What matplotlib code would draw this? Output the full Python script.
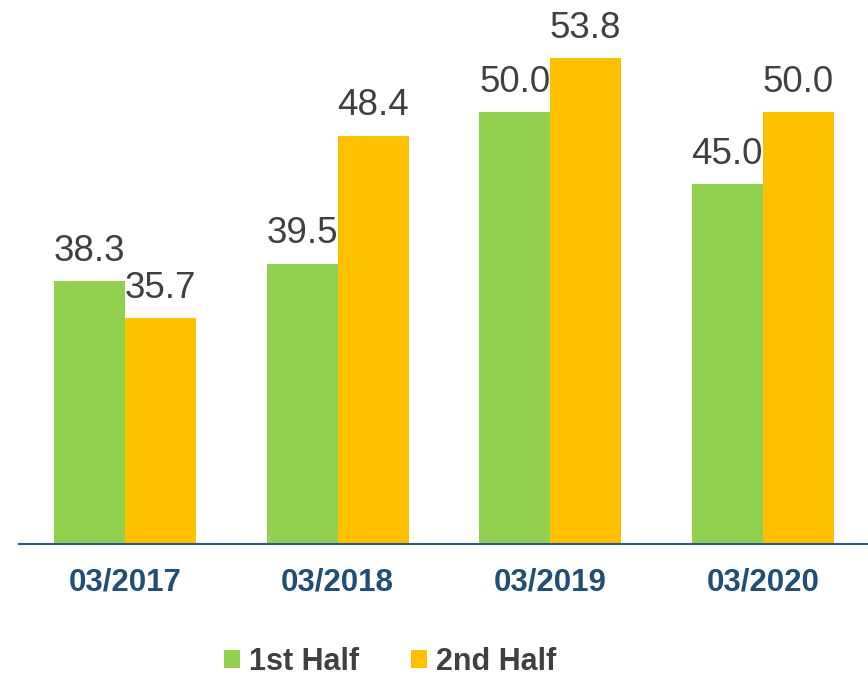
import numpy as np
import matplotlib.pyplot as plt

plt.rcParams['font.family'] = ['Liberation Sans', 'DejaVu Sans']

# data
periods = ['03/2017', '03/2018', '03/2019', '03/2020']
first_half = [38.3, 39.5, 50.0, 45.0]
second_half = [35.7, 48.4, 53.8, 50.0]

green = '#92D050'
yellow = '#FFC000'
label_grey = '#404040'
tick_blue = '#1F4E79'

fig = plt.figure(figsize=(8.68, 6.78), dpi=100)
ax = fig.add_axes([19 / 868, 0.1976, 850 / 868, 0.785])

x = np.arange(len(periods))
w = 0.334

b1 = ax.bar(x - w / 2, first_half, w, color=green, label='1st Half')
b2 = ax.bar(x + w / 2, second_half, w, color=yellow, label='2nd Half')

# value labels above bars
for bars, vals in [(b1, first_half), (b2, second_half)]:
    for rect, v in zip(bars, vals):
        ax.annotate('%.1f' % v,
                    xy=(rect.get_x() + rect.get_width() / 2, rect.get_height()),
                    xytext=(0, 14.5), textcoords='offset points',
                    ha='center', va='baseline',
                    fontsize=26.5, color=label_grey)

ax.set_xlim(-0.5, 3.5)
ax.set_ylim(20, 57)

for side in ['top', 'right', 'left']:
    ax.spines[side].set_visible(False)
ax.spines['bottom'].set_color('#2F5597')
ax.spines['bottom'].set_linewidth(1.5)

ax.set_yticks([])
ax.set_xticks(x)
ax.set_xticklabels(periods, fontsize=22.5, fontweight='bold', color=tick_blue)
ax.tick_params(axis='x', length=0, pad=17)

fig.legend(handles=[b1, b2], loc='center',
           bbox_to_anchor=(390 / 868, 1 - 662 / 678),
           ncol=2, frameon=False,
           prop={'size': 22, 'weight': 'bold'},
           labelcolor=label_grey,
           handlelength=0.52, handleheight=0.52,
           handletextpad=0.3, columnspacing=1.7,
           borderpad=0, borderaxespad=0)

fig.savefig('out.png', dpi=100)
